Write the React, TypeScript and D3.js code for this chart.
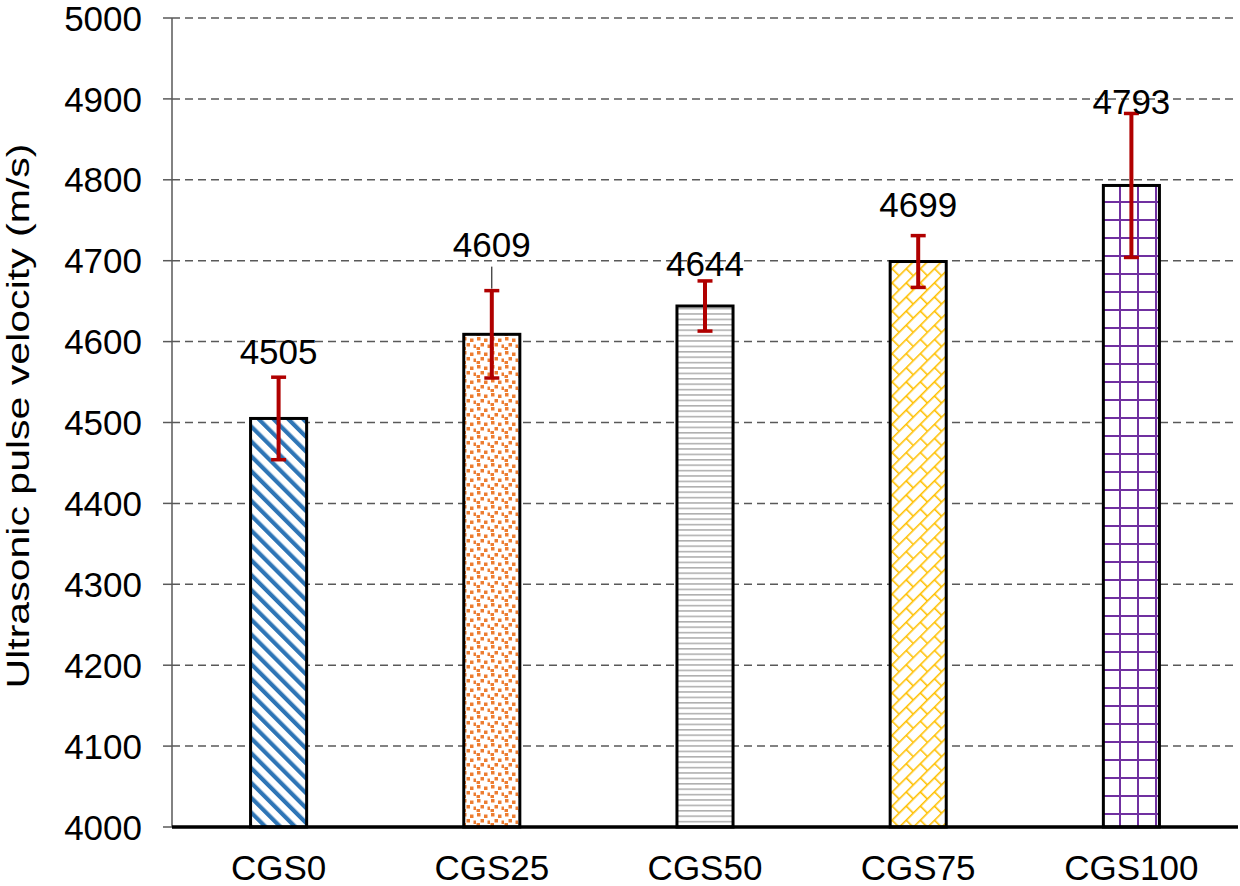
import React from 'react';
import * as d3 from 'd3';

// values
const categories = ['CGS0', 'CGS25', 'CGS50', 'CGS75', 'CGS100'];
const velocities = [4505, 4609, 4644, 4699, 4793];
const errors = [51, 54, 31, 32, 89];
const yTicks = [4000, 4100, 4200, 4300, 4400, 4500, 4600, 4700, 4800, 4900, 5000];

// layout for the hand-placed value labels (px above the error bar top)
const labelLift = [26, 46, 18, 31, 12];
const labelLeader = [false, true, false, false, false];
const patternIds = ['p-stripe', 'p-confetti', 'p-hlines', 'p-shingle', 'p-grid'];

const W = 1240;
const H = 886;
const margin = { top: 18, right: 2, bottom: 59, left: 172 };
const FONT = '"Liberation Sans", Arial, sans-serif';

export default function App() {
  const y = d3.scaleLinear().domain([4000, 5000]).range([H - margin.bottom, margin.top]);
  const x = d3
    .scaleBand<string>()
    .domain(categories)
    .range([margin.left, W - margin.right])
    .paddingInner(0.737)
    .paddingOuter(0.3685);

  const bw = x.bandwidth();
  const baseY = y(4000);

  return (
    <svg
      width={W}
      height={H}
      style={{ position: 'absolute', left: 0, top: 0, background: '#fff' }}
      fontFamily={FONT}
    >
      <defs>
        <pattern id="p-stripe" patternUnits="userSpaceOnUse" width={10.5} height={10} patternTransform="rotate(-45)">
          <rect x={0} y={0} width={4.2} height={10} fill="#2E75B6" />
        </pattern>
        <pattern id="p-confetti" patternUnits="userSpaceOnUse" width={14} height={14}>
          <rect x={1} y={1} width={3.5} height={3.5} fill="#ED7D31" />
          <rect x={8} y={2.5} width={3.5} height={3.5} fill="#ED7D31" />
          <rect x={4.5} y={7} width={3.5} height={3.5} fill="#ED7D31" />
          <rect x={11.5} y={8.5} width={3.5} height={3.5} fill="#ED7D31" />
          <rect x={0.5} y={11} width={3.5} height={3.5} fill="#ED7D31" />
        </pattern>
        <pattern id="p-hlines" patternUnits="userSpaceOnUse" width={10} height={5.4}>
          <line x1={0} x2={10} y1={0.8} y2={0.8} stroke="#A5A5A5" strokeWidth={1.4} />
        </pattern>
        <pattern id="p-shingle" patternUnits="userSpaceOnUse" width={20} height={20} patternTransform="rotate(-45)">
          <line x1={0} x2={20} y1={0.75} y2={0.75} stroke="#FFC000" strokeWidth={1.6} />
          <line x1={0} x2={20} y1={10.75} y2={10.75} stroke="#FFC000" strokeWidth={1.6} />
          <line x1={0.75} x2={0.75} y1={0} y2={10} stroke="#FFC000" strokeWidth={1.6} />
          <line x1={10.75} x2={10.75} y1={10} y2={20} stroke="#FFC000" strokeWidth={1.6} />
        </pattern>
        <pattern id="p-grid" patternUnits="userSpaceOnUse" x={3} y={3} width={18} height={18}>
          <line x1={1} x2={1} y1={0} y2={18} stroke="#7030A0" strokeWidth={2} />
          <line x1={0} x2={18} y1={1} y2={1} stroke="#7030A0" strokeWidth={2} />
        </pattern>
      </defs>

      {/* gridlines */}
      {yTicks
        .filter((t) => t > 4000)
        .map((t) => (
          <line
            key={`g${t}`}
            x1={margin.left}
            x2={W - margin.right}
            y1={y(t)}
            y2={y(t)}
            stroke="#595959"
            strokeWidth={1.5}
            strokeDasharray="8,5"
          />
        ))}

      {/* y axis */}
      <line x1={margin.left} x2={margin.left} y1={y(5000)} y2={baseY} stroke="#595959" strokeWidth={1.5} />
      {yTicks.map((t) => (
        <g key={`t${t}`}>
          <line x1={margin.left - 9} x2={margin.left} y1={y(t)} y2={y(t)} stroke="#595959" strokeWidth={1.5} />
          <text x={margin.left - 30} y={y(t)} dy="0.36em" textAnchor="end" fontSize={35} fill="#000">
            {t}
          </text>
        </g>
      ))}

      {/* bars */}
      {categories.map((c, i) => {
        const x0 = x(c)!;
        const top = y(velocities[i]);
        return (
          <g key={c}>
            <rect x={x0} y={top} width={bw} height={baseY - top} fill="#fff" />
            <rect
              x={x0}
              y={top}
              width={bw}
              height={baseY - top}
              fill={`url(#${patternIds[i]})`}
              stroke="#000"
              strokeWidth={3}
            />
          </g>
        );
      })}

      {/* baseline */}
      <line x1={margin.left} x2={W - margin.right} y1={baseY} y2={baseY} stroke="#000" strokeWidth={3.5} />

      {/* error bars */}
      {categories.map((c, i) => {
        const cx = x(c)! + bw / 2;
        const hi = y(velocities[i] + errors[i]);
        const lo = y(velocities[i] - errors[i]);
        return (
          <g key={`e${c}`} stroke="#B00000">
            <line x1={cx} x2={cx} y1={hi} y2={lo} strokeWidth={4} />
            <line x1={cx - 7.5} x2={cx + 7.5} y1={hi} y2={hi} strokeWidth={3.5} />
            <line x1={cx - 7.5} x2={cx + 7.5} y1={lo} y2={lo} strokeWidth={3.5} />
          </g>
        );
      })}

      {/* value labels */}
      {categories.map((c, i) => {
        const cx = x(c)! + bw / 2;
        const hi = y(velocities[i] + errors[i]);
        const cy = hi - labelLift[i];
        return (
          <g key={`l${c}`}>
            {labelLeader[i] && <line x1={cx} x2={cx} y1={cy + 22} y2={hi - 2} stroke="#000" strokeWidth={1} />}
            <text x={cx} y={cy} dy="0.36em" textAnchor="middle" fontSize={35} fill="#000">
              {velocities[i]}
            </text>
          </g>
        );
      })}

      {/* x labels */}
      {categories.map((c) => (
        <text key={`x${c}`} x={x(c)! + bw / 2} y={880} textAnchor="middle" fontSize={35} fill="#000">
          {c}
        </text>
      ))}

      {/* y title */}
      <text
        transform={`translate(29, 416) rotate(-90)`}
        textAnchor="middle"
        fontSize={32}
        textLength={545}
        lengthAdjust="spacingAndGlyphs"
        fill="#000"
      >
        Ultrasonic pulse velocity (m/s)
      </text>
    </svg>
  );
}
